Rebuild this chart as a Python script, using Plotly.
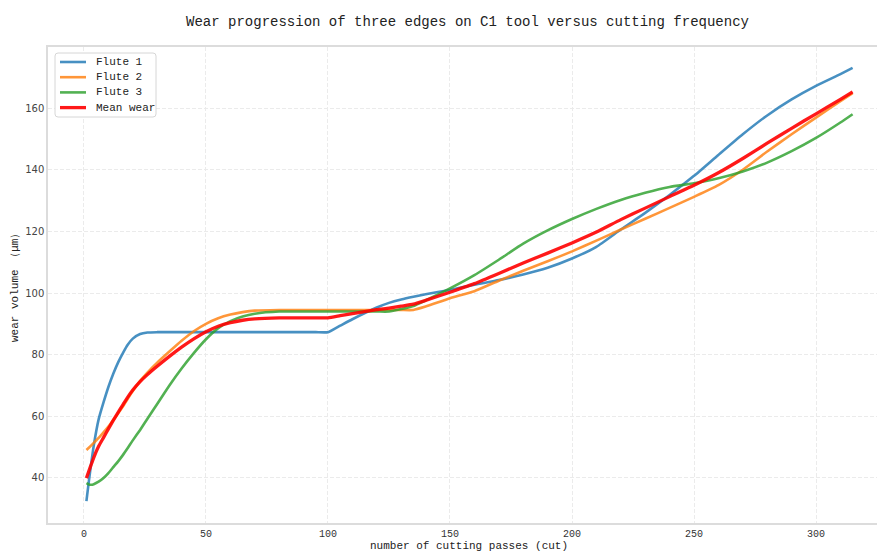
import numpy as np
import plotly.graph_objects as go

# cutting passes at which wear was sampled
passes = [1, 2, 3, 4, 6, 8, 10, 12, 14, 16, 18, 20, 23, 26, 30, 35, 40, 45, 50, 55,
          60, 65, 70, 80, 90, 95, 100, 105, 110, 120, 125, 130, 135, 140, 150, 160, 170, 180,
          190, 200, 210, 220, 230, 240, 250, 260, 270, 280, 290, 300, 310, 315]

# wear volume (μm) per flute
flute1 = [32.5, 39.0, 45.0, 50.5, 59.0, 64.5, 69.5, 73.8, 77.5, 80.6, 83.3, 85.2, 86.7, 87.2, 87.3, 87.3, 87.3, 87.3, 87.3, 87.3,
          87.3, 87.3, 87.3, 87.3, 87.3, 87.3, 87.3, 89.4, 91.5, 95.3, 96.8, 97.9, 98.8, 99.6, 101.0, 102.7, 104.2, 106.0,
          108.2, 111.2, 115.0, 120.6, 126.0, 131.8, 138.0, 144.8, 151.5, 157.6, 162.8, 167.2, 171.0, 173.0]
flute2 = [49.1, 49.8, 50.6, 51.4, 53.0, 54.8, 56.7, 58.8, 61.0, 63.3, 65.8, 68.2, 71.5, 74.2, 77.4, 81.0, 84.5, 87.6, 90.0, 91.8,
          93.0, 93.8, 94.3, 94.5, 94.5, 94.5, 94.5, 94.5, 94.5, 94.5, 94.5, 94.5, 94.5, 95.6, 98.3, 100.6, 104.0, 107.2,
          110.3, 113.5, 117.0, 120.6, 124.1, 127.6, 131.2, 135.0, 140.0, 145.9, 151.5, 156.9, 162.2, 164.8]
flute3 = [38.3, 37.9, 37.8, 38.0, 38.8, 40.0, 41.6, 43.5, 45.4, 47.5, 49.8, 52.2, 55.6, 59.2, 64.0, 70.0, 75.5, 80.5, 85.0, 88.6,
          90.9, 92.4, 93.3, 94.0, 94.0, 94.0, 94.0, 94.0, 94.0, 94.0, 94.0, 94.8, 95.8, 97.6, 101.5, 105.8, 110.8, 116.0,
          120.3, 124.0, 127.3, 130.2, 132.5, 134.4, 135.6, 137.2, 139.4, 142.3, 146.0, 150.3, 155.3, 158.0]

# mean wear across the three flutes
mean_wear = np.mean([flute1, flute2, flute3], axis=0)

series = [
    ("Flute 1", flute1, "rgba(31,119,180,0.82)", 2.6),
    ("Flute 2", flute2, "rgba(255,127,14,0.82)", 2.6),
    ("Flute 3", flute3, "rgba(44,160,44,0.82)", 2.6),
    ("Mean wear", mean_wear, "rgba(255,0,0,0.9)", 3.3),
]

x_ticks = [0, 50, 100, 150, 200, 250, 300]
y_ticks = [40, 60, 80, 100, 120, 140, 160]

mono = "Liberation Mono, DejaVu Sans Mono, monospace"

W, H = 877, 553
L, T, R, B = 48, 47, 0, 30
PW, PH = W - L - R, H - T - B


def px_x(px):
    return (px - L) / PW


def px_y(py):
    return 1 - (py - T) / PH


fig = go.Figure()
for name, vals, color, width in series:
    fig.add_trace(go.Scatter(
        x=passes, y=vals, mode="lines", name=name, showlegend=False,
        line=dict(color=color, width=width, shape="spline", smoothing=0.5),
    ))

# compact legend box in the upper-left corner
bx0, bx1, by0, by1, rad = 55, 156, 53, 117, 3
box_path = (
    f"M {px_x(bx0 + rad)} {px_y(by0)} L {px_x(bx1 - rad)} {px_y(by0)} "
    f"Q {px_x(bx1)} {px_y(by0)} {px_x(bx1)} {px_y(by0 + rad)} "
    f"L {px_x(bx1)} {px_y(by1 - rad)} Q {px_x(bx1)} {px_y(by1)} {px_x(bx1 - rad)} {px_y(by1)} "
    f"L {px_x(bx0 + rad)} {px_y(by1)} Q {px_x(bx0)} {px_y(by1)} {px_x(bx0)} {px_y(by1 - rad)} "
    f"L {px_x(bx0)} {px_y(by0 + rad)} Q {px_x(bx0)} {px_y(by0)} {px_x(bx0 + rad)} {px_y(by0)} Z"
)
fig.add_shape(type="path", path=box_path, xref="paper", yref="paper",
              fillcolor="white", line=dict(color="#d6d6d6", width=1), layer="above")
for i, (name, _, color, width) in enumerate(series):
    ly = 62 + i * 15.2
    fig.add_shape(type="line", xref="paper", yref="paper",
                  x0=px_x(60), x1=px_x(86), y0=px_y(ly), y1=px_y(ly),
                  line=dict(color=color, width=width), layer="above")
    fig.add_annotation(text=name, xref="paper", yref="paper",
                       x=px_x(94), y=px_y(ly), xanchor="left", yanchor="middle",
                       showarrow=False, font=dict(family=mono, size=11, color="#222222"))

# axis titles
fig.add_annotation(text="number of cutting passes (cut)", xref="paper", yref="paper",
                   x=px_x(469), y=px_y(546), xanchor="center", yanchor="middle",
                   showarrow=False, font=dict(family=mono, size=11, color="#222222"))
fig.add_annotation(text="wear volume （μm）", xref="paper", yref="paper",
                   x=px_x(15), y=px_y(285), xanchor="center", yanchor="middle",
                   textangle=-90, showarrow=False,
                   font=dict(family=mono, size=11, color="#222222"))

fig.update_layout(
    width=W, height=H,
    margin=dict(l=L, r=R, t=T, b=B, pad=0),
    paper_bgcolor="white", plot_bgcolor="white",
    font=dict(family=mono, size=11, color="#333333"),
    title=dict(
        text="Wear progression of three edges on C1 tool versus cutting frequency",
        x=467.5 / W, xanchor="center", y=1 - 21 / H, yanchor="middle",
        font=dict(family=mono, size=14, color="#222222"),
    ),
    showlegend=False,
    xaxis=dict(
        range=[-14.75, 325], tickvals=x_ticks, ticktext=[str(v) for v in x_ticks],
        showgrid=True, gridcolor="#ebebeb", griddash="4px,2px", gridwidth=0.8,
        showline=True, linecolor="#dcdcdc", linewidth=1.5, mirror=True,
        zeroline=False, ticks="", tickfont=dict(family=mono, size=10, color="#333333"),
    ),
    yaxis=dict(
        range=[25.4, 179.8], tickvals=y_ticks, ticktext=[str(v) for v in y_ticks],
        showgrid=True, gridcolor="#ebebeb", griddash="4px,2px", gridwidth=0.8,
        showline=True, linecolor="#dcdcdc", linewidth=1.5, mirror=False,
        zeroline=False, ticks="", tickfont=dict(family="DejaVu Sans, sans-serif", size=10, color="#444444"),
    ),
)

fig.write_html("out.html")
